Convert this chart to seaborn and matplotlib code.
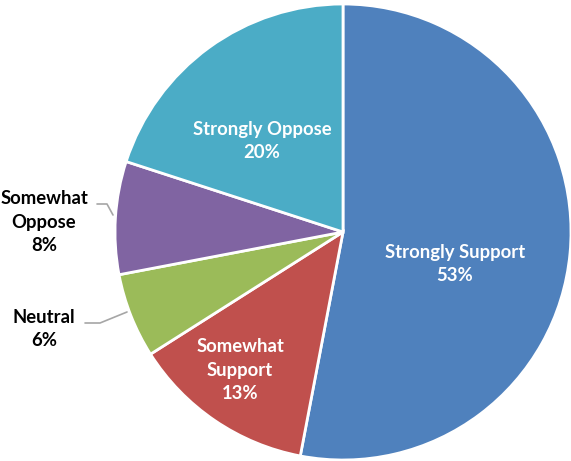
import matplotlib
matplotlib.use("Agg")
import matplotlib.pyplot as plt
import seaborn as sns
import numpy as np

categories = ["Strongly Support", "Somewhat Support", "Neutral", "Somewhat Oppose", "Strongly Oppose"]
values = [53, 13, 6, 8, 20]
label_texts = ["Strongly Support\n53%", "Somewhat\nSupport\n13%", "Neutral\n6%", "Somewhat\nOppose\n8%", "Strongly Oppose\n20%"]
colors = ["#4F81BD", "#C0504D", "#9BBB59", "#8064A2", "#4BACC6"]

sns.set_theme(style="white")
plt.rcParams['font.family'] = ['Lato', 'DejaVu Sans']

W, H = 571, 461
fig = plt.figure(figsize=(W / 100, H / 100), dpi=100)
cx, cy, r = 343, 232, 228
ax = fig.add_axes([(cx - r) / W, (H - cy - r) / H, 2 * r / W, 2 * r / H])
ax.pie(values, colors=sns.color_palette(colors), startangle=90, counterclock=False,
       radius=1, wedgeprops=dict(edgecolor="white", linewidth=2))
ax.set_xlim(-1, 1)
ax.set_ylim(-1, 1)
ax.set_aspect("equal")
ax.axis("off")

def px(x, y):
    return ((x - cx) / r, (cy - y) / r)

fs = 13.3
ls = 1.45
# inside labels (white)
inside = {0: (455, 264), 1: (240, 370), 4: (262, 141)}
for i, (x, y) in inside.items():
    dx, dy = px(x, y)
    ax.text(dx, dy, label_texts[i], ha="center", va="center", color="white",
            fontsize=fs, fontweight="bold", linespacing=ls)
# outside labels (black)
outside = {3: (44, 222), 2: (44, 329)}
for i, (x, y) in outside.items():
    dx, dy = px(x, y)
    ax.text(dx, dy, label_texts[i], ha="center", va="center", color="black",
            fontsize=fs, fontweight="bold", linespacing=ls, clip_on=False)
# leader lines
leaders = [[(97, 204), (107, 204), (113, 215)], [(85, 323), (100, 323), (127, 312)]]
for pts in leaders:
    xs, ys = zip(*[px(x, y) for x, y in pts])
    ax.plot(xs, ys, color="#A6A6A6", linewidth=1.2, clip_on=False)

fig.savefig("out.png", dpi=100)
